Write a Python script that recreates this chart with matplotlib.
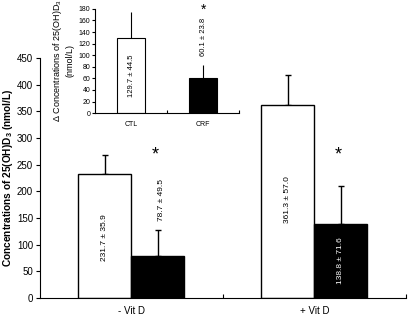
import numpy as np
import matplotlib.pyplot as plt

plt.rcParams['font.family'] = ['Liberation Sans', 'DejaVu Sans']

groups = ['- Vit D', '+ Vit D']
ctl_mean = [231.7, 361.3]
ctl_sd = [35.9, 57.0]
crf_mean = [78.7, 138.8]
crf_sd = [49.5, 71.6]

inset_groups = ['CTL', 'CRF']
delta_mean = [129.7, 60.1]
delta_sd = [44.5, 23.8]

fig = plt.figure(figsize=(4.1, 3.16), dpi=100)
ax = fig.add_axes([0.0976, 0.057, 0.892, 0.759])

x = np.arange(len(groups))
w = 0.29
ax.bar(x - w / 2, ctl_mean, w, color='white', edgecolor='black', linewidth=1, zorder=2)
ax.bar(x + w / 2, crf_mean, w, color='black', edgecolor='black', linewidth=1, zorder=2)
ax.errorbar(x - w / 2, ctl_mean, yerr=[np.zeros(2), ctl_sd], fmt='none',
            ecolor='black', elinewidth=1, capsize=2.5, zorder=1)
ax.errorbar(x + w / 2, crf_mean, yerr=[np.zeros(2), crf_sd], fmt='none',
            ecolor='black', elinewidth=1, capsize=2.5, zorder=1)

# value labels
for i in range(2):
    ax.text(x[i] - w / 2, [114, 184][i], f'{ctl_mean[i]:.1f} ± {ctl_sd[i]:.1f}',
            rotation=90, ha='center', va='center', fontsize=6)
ax.text(x[0] + w / 2 + 0.02, 184, f'{crf_mean[0]:.1f} ± {crf_sd[0]:.1f}',
        rotation=90, ha='center', va='center', fontsize=6)
ax.text(x[1] + w / 2, 71, f'{crf_mean[1]:.1f} ± {crf_sd[1]:.1f}',
        rotation=90, ha='center', va='center', fontsize=6, color='white')
for i in range(2):
    ax.text(x[i] + 0.13, 268, '*', ha='center', va='center', fontsize=13)

ax.set_xlim(-0.5, 1.5)
ax.set_ylim(0, 450)
ax.set_yticks(np.arange(0, 451, 50))
ax.set_xticks([0.5, 1.5])
ax.set_xticklabels([])
ax.set_xticks(x, minor=True)
ax.set_xticklabels(groups, minor=True, fontsize=7)
ax.tick_params(axis='x', which='minor', length=0, pad=6)
ax.tick_params(axis='x', which='major', length=3, direction='in')
ax.tick_params(axis='y', labelsize=7, length=3, direction='out', pad=2)
ax.spines['top'].set_visible(False)
ax.spines['right'].set_visible(False)
ax.set_ylabel('Concentrations of 25(OH)D$_\\mathregular{3}$ (nmol/L)',
              fontsize=7.3, fontweight='bold')
ax.yaxis.set_label_coords(-0.068, 0.5)

# inset
ins = fig.add_axes([0.232, 0.642, 0.351, 0.33])
xi = np.arange(len(inset_groups))
wi = 0.4
ins.bar(xi, delta_mean, wi, color=['white', 'black'], edgecolor='black',
        linewidth=0.8, zorder=2)
ins.errorbar(xi, delta_mean, yerr=[np.zeros(2), delta_sd], fmt='none',
             ecolor='black', elinewidth=0.8, capsize=0, zorder=1)
ins.text(xi[0], 64, f'{delta_mean[0]:.1f} ± {delta_sd[0]:.1f}', rotation=90,
         ha='center', va='center', fontsize=5.5)
ins.text(xi[1], 131, f'{delta_mean[1]:.1f} ± {delta_sd[1]:.1f}', rotation=90,
         ha='center', va='center', fontsize=5.5)
ins.text(xi[1], 178, '*', ha='center', va='center', fontsize=10, clip_on=False)
ins.set_xlim(-0.5, 1.5)
ins.set_ylim(0, 180)
ins.set_yticks(np.arange(0, 181, 20))
ins.set_xticks([0.5, 1.5])
ins.set_xticklabels([])
ins.set_xticks(xi, minor=True)
ins.set_xticklabels(inset_groups, minor=True, fontsize=5)
ins.tick_params(axis='x', which='minor', length=0, pad=6)
ins.tick_params(axis='x', which='major', length=2, direction='in')
ins.tick_params(axis='y', labelsize=5, length=2, pad=1.5)
ins.spines['top'].set_visible(False)
ins.spines['right'].set_visible(False)
ins.set_ylabel('Δ Concentrations of 25(OH)D$_\\mathregular{3}$\n(nmol/L)',
               fontsize=6.5, labelpad=3)

fig.savefig('out.png', dpi=100)
